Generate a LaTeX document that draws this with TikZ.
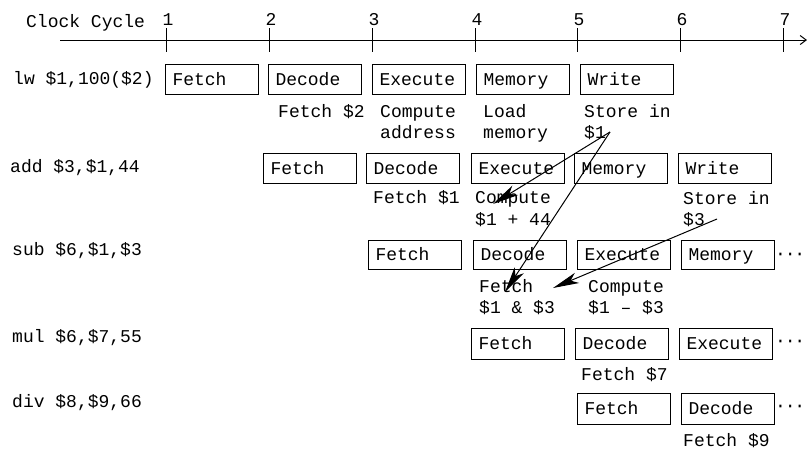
\documentclass[tikz,border=0pt]{standalone}
\usepackage{fontspec}
\setmainfont{Liberation Mono}
\usetikzlibrary{arrows.meta}
\begin{document}
\begin{tikzpicture}[x=1pt,y=-1pt,
  every node/.style={font=\fontsize{18}{21}\selectfont, inner sep=0pt},
  stage/.style={draw, line width=1pt, anchor=north west, minimum width=91pt,
    minimum height=30pt, text width=79pt, align=left, inner xsep=7pt,
    text height=11pt, text depth=0pt},
  note/.style={anchor=base west},
  lbl/.style={anchor=base west},
  dep/.style={line width=1pt, -{Stealth[length=26pt,width=11pt,inset=7pt]}},
  tick/.style={line width=1pt},
  more/.style={anchor=west}
]
\useasboundingbox (0,0) rectangle (807,451);
\newcommand{\mydots}{·\kern-1.2pt·\kern-1.2pt·}

% axis
\node[lbl] (cc) at (26,27) {Clock Cycle};
\coordinate (axs) at (60,40);
\coordinate (axe) at (807,40);
\draw[line width=1pt, -{Straight Barb[length=6pt,width=9pt]}] (axs) -- (axe);
\foreach \i/\x in {1/166,2/269,3/372,4/475,5/577,6/680,7/783}{
  \coordinate (t\i a) at (\x,28);
  \coordinate (t\i b) at (\x,52);
  \draw[tick] (t\i a) -- (t\i b);
  \node[anchor=base] (n\i) at (\x+2,25) {\i};
}

% instruction labels
\node[lbl] (i1) at (13,84) {lw \$1,100(\$2)};
\node[lbl] (i2) at (10,172) {add \$3,\$1,44};
\node[lbl] (i3) at (12,255) {sub \$6,\$1,\$3};
\node[lbl] (i4) at (12,342) {mul \$6,\$7,55};
\node[lbl] (i5) at (12,407) {div \$8,\$9,66};

% row 1
\node[stage] (a1) at (165,64) {Fetch};
\node[stage] (a2) at (268,64) {Decode};
\node[stage] (a3) at (372,64) {Execute};
\node[stage] (a4) at (476,64) {Memory};
\node[stage] (a5) at (580,64) {Write};
\node[note] (na2) at (278,117) {Fetch \$2};
\node[note] (na3) at (380,117) {Compute};
\node[note] (na3b) at (380,138) {address};
\node[note] (na4) at (483,117) {Load};
\node[note] (na4b) at (483,138) {memory};
\node[note] (na5) at (584,117) {Store in};
\node[note] (na5b) at (584,138) {\$1};

% row 2
\node[stage] (b1) at (263,153) {Fetch};
\node[stage] (b2) at (366,153) {Decode};
\node[stage] (b3) at (471,153) {Execute};
\node[stage] (b4) at (574,153) {Memory};
\node[stage] (b5) at (678,153) {Write};
\node[note] (nb2) at (373,203) {Fetch \$1};
\node[note] (nb3) at (475,203) {Compute};
\node[note] (nb3b) at (475,225) {\$1 + 44};
\node[note] (nb5) at (683,204) {Store in};
\node[note] (nb5b) at (683,225) {\$3};

% row 3
\node[stage, minimum height=29pt] (c1) at (368,240) {Fetch};
\node[stage, minimum height=29pt] (c2) at (473,240) {Decode};
\node[stage, minimum height=29pt] (c3) at (577,240) {Execute};
\node[stage, minimum height=29pt] (c4) at (681,240) {Memory};
\node[more] (c5) at (775,256) {\mydots};
\node[note] (nc2) at (479,292) {Fetch};
\node[note] (nc2b) at (479,313) {\$1 \& \$3};
\node[note] (nc3) at (588,292) {Compute};
\node[note] (nc3b) at (588,313) {\$1 – \$3};

% row 4
\node[stage, minimum height=31pt] (d1) at (471,328) {Fetch};
\node[stage, minimum height=31pt] (d2) at (575,328) {Decode};
\node[stage, minimum height=31pt] (d3) at (679,328) {Execute};
\node[more] (d4) at (775,343) {\mydots};
\node[note] (nd2) at (581,380) {Fetch \$7};

% row 5
\node[stage, minimum height=31pt] (e1) at (577,393) {Fetch};
\node[stage, minimum height=31pt] (e2) at (681,393) {Decode};
\node[more] (e3) at (775,408) {\mydots};
\node[note] (ne2) at (683,446) {Fetch \$9};

% forwarding arrows
\coordinate (s1) at (610,132);
\coordinate (s3) at (717,219);
\coordinate (r1) at (493,204);
\coordinate (r2) at (505,292);
\coordinate (r3) at (553,288);
\draw[dep] (s1) -- (r1);
\draw[dep] (s1) -- (r2);
\draw[dep] (s3) -- (r3);
\end{tikzpicture}
\end{document}
